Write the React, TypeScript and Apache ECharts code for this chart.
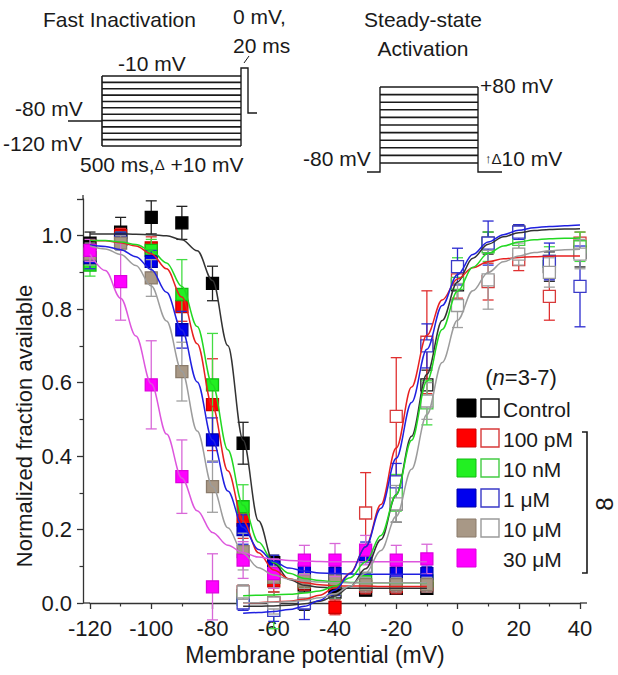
import React, { useEffect, useRef } from "react";
import * as echarts from "echarts";

// ---- Data points (mean, SEM) ----
const inactV = [-120, -110, -100, -90, -80, -70, -60, -50, -40, -30, -20, -10];
const controlInact = [0.98, 1.01, 1.05, 1.035, 0.87, 0.435, 0.11, 0.05, 0.045, 0.035, 0.04, 0.04];
const controlInactErr = [0.03, 0.04, 0.045, 0.045, 0.047, 0.057, 0.02, 0.02, 0.02, 0.015, 0.015, 0.015];
const pM100Inact = [0.94, 1.0, 0.967, 0.807, 0.54, 0.226, 0.06, 0.055, -0.012, 0.045, 0.045, 0.05];
const pM100InactErr = [0.03, 0.02, 0.03, 0.04, 0.125, 0.05, 0.03, 0.02, 0.02, 0.02, 0.02, 0.02];
const nM10Inact = [0.92, 0.99, 0.96, 0.84, 0.594, 0.262, 0.07, 0.06, 0.06, 0.06, 0.055, 0.06];
const nM10InactErr = [0.03, 0.02, 0.03, 0.095, 0.14, 0.06, 0.03, 0.02, 0.02, 0.02, 0.02, 0.02];
const uM1Inact = [0.94, 0.99, 0.93, 0.744, 0.444, 0.2, 0.1, 0.09, 0.08, 0.13, 0.08, 0.08];
const uM1InactErr = [0.03, 0.02, 0.03, 0.05, 0.06, 0.04, 0.03, 0.02, 0.02, 0.02, 0.02, 0.02];
const uM10Inact = [0.95, 0.98, 0.885, 0.63, 0.317, 0.14, 0.07, 0.06, 0.06, 0.05, 0.05, 0.05];
const uM10InactErr = [0.03, 0.02, 0.05, 0.08, 0.07, 0.05, 0.03, 0.02, 0.02, 0.02, 0.02, 0.02];
const uM30Inact = [0.96, 0.875, 0.594, 0.344, 0.044, 0.117, 0.08, 0.117, 0.117, 0.144, 0.117, 0.12];
const uM30InactErr = [0.03, 0.105, 0.12, 0.1, 0.09, 0.05, 0.04, 0.04, 0.045, 0.04, 0.04, 0.04];

const actV = [-70, -60, -50, -40, -30, -20, -10, 0, 10, 20, 30, 40];
const controlAct = [0.02, 0.0, 0.0, 0.03, 0.1, 0.27, 0.594, 0.866, 0.98, 1.01, 0.916, 0.955];
const controlActErr = [0.02, 0.03, 0.02, 0.02, 0.04, 0.05, 0.04, 0.04, 0.03, 0.02, 0.04, 0.04];
const pM100Act = [0.03, 0.0, 0.05, 0.06, 0.245, 0.508, 0.71, 0.88, 0.875, 0.935, 0.835, 0.98];
const pM100ActErr = [0.02, 0.03, 0.03, 0.03, 0.11, 0.16, 0.14, 0.05, 0.05, 0.03, 0.065, 0.03];
const nM10Act = [0.01, -0.02, 0.02, 0.04, 0.1, 0.3, 0.545, 0.87, 0.97, 0.99, 0.93, 0.97];
const nM10ActErr = [0.02, 0.05, 0.03, 0.03, 0.04, 0.05, 0.06, 0.07, 0.04, 0.03, 0.04, 0.04];
const uM1Act = [0.0, -0.02, 0.0, 0.05, 0.126, 0.33, 0.7, 0.916, 0.98, 1.01, 0.93, 0.862];
const uM1ActErr = [0.02, 0.03, 0.045, 0.03, 0.04, 0.05, 0.06, 0.05, 0.06, 0.02, 0.05, 0.11];
const uM10Act = [0.03, 0.0, 0.03, 0.04, 0.1, 0.27, 0.55, 0.81, 0.88, 0.95, 0.9, 0.95];
const uM10ActErr = [0.02, 0.03, 0.02, 0.03, 0.04, 0.05, 0.05, 0.06, 0.08, 0.03, 0.04, 0.04];

// ---- Fitted curves, every 5 mV ----
const inactCurveV = [-120, -115, -110, -105, -100, -95, -90, -85, -80, -75, -70, -65, -60, -55, -50, -45, -40, -35, -30, -25, -20, -15, -10];
const controlInactFit = [1.005, 1.005, 1.005, 1.004, 1.003, 1.0, 0.989, 0.959, 0.878, 0.701, 0.443, 0.224, 0.109, 0.064, 0.048, 0.043, 0.041, 0.04, 0.04, 0.04, 0.04, 0.04, 0.04];
const pM100InactFit = [0.988, 0.986, 0.981, 0.972, 0.951, 0.91, 0.833, 0.706, 0.535, 0.36, 0.223, 0.137, 0.09, 0.066, 0.055, 0.05, 0.047, 0.046, 0.046, 0.045, 0.045, 0.045, 0.045];
const nM10InactFit = [0.988, 0.987, 0.983, 0.976, 0.959, 0.926, 0.862, 0.753, 0.594, 0.417, 0.266, 0.166, 0.11, 0.081, 0.067, 0.061, 0.058, 0.056, 0.055, 0.055, 0.055, 0.055, 0.055];
const uM1InactFit = [0.975, 0.971, 0.962, 0.943, 0.908, 0.846, 0.743, 0.602, 0.444, 0.305, 0.206, 0.146, 0.113, 0.095, 0.087, 0.082, 0.08, 0.079, 0.078, 0.078, 0.078, 0.078, 0.078];
const uM10InactFit = [0.972, 0.964, 0.949, 0.919, 0.863, 0.768, 0.631, 0.468, 0.317, 0.205, 0.135, 0.096, 0.076, 0.065, 0.06, 0.057, 0.056, 0.055, 0.055, 0.055, 0.055, 0.055, 0.055];
const uM30InactFit = [0.95, 0.905, 0.83, 0.727, 0.597, 0.46, 0.34, 0.251, 0.192, 0.157, 0.137, 0.125, 0.119, 0.116, 0.114, 0.113, 0.112, 0.112, 0.112, 0.112, 0.112, 0.112, 0.112];

const actCurveV = [-70, -65, -60, -55, -50, -45, -40, -35, -30, -25, -20, -15, -10, -5, 0, 5, 10, 15, 20, 25, 30, 35, 40];
const controlActFit = [-0.009, -0.009, -0.008, -0.006, -0.002, 0.005, 0.019, 0.045, 0.093, 0.173, 0.295, 0.454, 0.623, 0.769, 0.874, 0.939, 0.977, 0.997, 1.008, 1.014, 1.017, 1.018, 1.019];
const pM100ActFit = [0.001, 0.001, 0.003, 0.005, 0.01, 0.021, 0.042, 0.082, 0.153, 0.268, 0.422, 0.588, 0.729, 0.825, 0.882, 0.913, 0.929, 0.937, 0.941, 0.943, 0.944, 0.945, 0.945];
const nM10ActFit = [0.02, 0.021, 0.022, 0.024, 0.027, 0.033, 0.046, 0.069, 0.112, 0.184, 0.295, 0.443, 0.604, 0.745, 0.849, 0.914, 0.952, 0.972, 0.983, 0.989, 0.992, 0.993, 0.994];
const uM1ActFit = [-0.028, -0.026, -0.023, -0.018, -0.009, 0.007, 0.035, 0.08, 0.153, 0.258, 0.394, 0.546, 0.691, 0.81, 0.894, 0.949, 0.983, 1.003, 1.015, 1.022, 1.025, 1.027, 1.029];
const uM10ActFit = [0.001, 0.001, 0.002, 0.004, 0.007, 0.014, 0.025, 0.046, 0.082, 0.143, 0.236, 0.364, 0.513, 0.655, 0.77, 0.85, 0.9, 0.929, 0.945, 0.954, 0.959, 0.962, 0.963];

const xTicks = { min: -120, max: 40, interval: 20 };
const yTicks = { min: 0, max: 1.1, interval: 0.2 };

const legendLabels = ["Control", "100 pM", "10 nM", "1 μM", "10 μM", "30 μM"];

const FONT = "'Liberation Sans', Arial, Helvetica, sans-serif";

const groups = [
  { name: "Control", fill: "#000000", stroke: "#000000", open: "#111111", bar: "#222222", curve: "#333333" },
  { name: "100 pM", fill: "#ff0000", stroke: "#cc0000", open: "#d83a3a", bar: "#e03030", curve: "#e82020" },
  { name: "10 nM", fill: "#22f022", stroke: "#11bb11", open: "#44cc44", bar: "#44dd44", curve: "#22d822" },
  { name: "1 μM", fill: "#0000ee", stroke: "#0000aa", open: "#3a3ac8", bar: "#2a2ad0", curve: "#2020e0" },
  { name: "10 μM", fill: "#a89886", stroke: "#8a7b6b", open: "#9a9a9a", bar: "#a0a0a0", curve: "#9c9c9c" },
  { name: "30 μM", fill: "#ff00ff", stroke: "#dd00dd", open: "#e050e0", bar: "#d868d8", curve: "#dd55dd" },
];

const inactMeans = [controlInact, pM100Inact, nM10Inact, uM1Inact, uM10Inact, uM30Inact];
const inactErrs = [controlInactErr, pM100InactErr, nM10InactErr, uM1InactErr, uM10InactErr, uM30InactErr];
const inactFits = [controlInactFit, pM100InactFit, nM10InactFit, uM1InactFit, uM10InactFit, uM30InactFit];
const actMeans = [controlAct, pM100Act, nM10Act, uM1Act, uM10Act];
const actErrs = [controlActErr, pM100ActErr, nM10ActErr, uM1ActErr, uM10ActErr];
const actFits = [controlActFit, pM100ActFit, nM10ActFit, uM1ActFit, uM10ActFit];

function pointRenderer(fill: string, stroke: string, bar: string, size: number) {
  return (params: any, api: any) => {
    const x = api.value(0);
    const y = api.value(1);
    const e = api.value(2);
    const c = api.coord([x, y]);
    const t = api.coord([x, y + e]);
    const b = api.coord([x, y - e]);
    const cap = 5.5;
    const ls = { stroke: bar, lineWidth: 1.3 };
    return {
      type: "group",
      children: [
        { type: "line", shape: { x1: c[0], y1: t[1], x2: c[0], y2: b[1] }, style: ls },
        { type: "line", shape: { x1: c[0] - cap, y1: t[1], x2: c[0] + cap, y2: t[1] }, style: ls },
        { type: "line", shape: { x1: c[0] - cap, y1: b[1], x2: c[0] + cap, y2: b[1] }, style: ls },
        {
          type: "rect",
          shape: { x: c[0] - size / 2, y: c[1] - size / 2, width: size, height: size },
          style: { fill, stroke, lineWidth: 1.3 },
        },
      ],
    };
  };
}

function txt(x: number, y: number, text: string, extra: any = {}, size = 21) {
  return {
    type: "text",
    x,
    y,
    z: 100,
    style: {
      text,
      fontFamily: FONT,
      fontSize: size,
      fill: "#1a1a1a",
      align: "left",
      verticalAlign: "middle",
      ...extra,
    },
  };
}

function ln(x1: number, y1: number, x2: number, y2: number, w = 1.5) {
  return { type: "line", z: 100, shape: { x1, y1, x2, y2 }, style: { stroke: "#1a1a1a", lineWidth: w } };
}

function pl(points: number[][], w = 1.5) {
  return { type: "polyline", z: 100, shape: { points }, style: { stroke: "#1a1a1a", lineWidth: w, fill: "none" } };
}

function buildGraphics() {
  const els: any[] = [];
  // Fast inactivation protocol
  for (let i = 0; i < 12; i++) {
    const y = 76 + (i * 70) / 11;
    els.push(ln(102, y, 241, y, 1.6));
  }
  els.push(ln(102, 76, 102, 146, 1.6));
  els.push(pl([[68, 121], [102, 121]], 1.4));
  els.push(pl([[241, 146], [241, 68], [248, 68], [248, 113], [257, 113]], 1.4));
  els.push(ln(244, 63, 249, 56, 1));
  els.push(txt(43, 19, "Fast Inactivation", {}, 21));
  els.push(txt(233, 16, "0 mV,", {}, 21));
  els.push(txt(233, 45, "20 ms", {}, 21));
  els.push(txt(118, 63, "-10 mV", {}, 21));
  els.push(txt(15, 108, "-80 mV", {}, 21));
  els.push(txt(3, 143, "-120 mV", {}, 21));
  els.push(
    txt(80, 164, "500 ms,{d|Δ} +10 mV", { rich: { d: { fontSize: 15, fontFamily: FONT, fill: "#1a1a1a" } } }, 21)
  );
  // Steady-state activation protocol
  for (let i = 0; i < 11; i++) {
    const y = 87 + i * 7.6;
    els.push(ln(380, y, 478, y, 1.6));
  }
  els.push(pl([[367, 172], [380, 172], [380, 87]], 1.4));
  els.push(pl([[478, 87], [478, 172], [502, 172]], 1.4));
  els.push(txt(423, 19, "Steady-state", { align: "center" }, 21));
  els.push(txt(423, 48, "Activation", { align: "center" }, 21));
  els.push(txt(303, 158, "-80 mV", {}, 21));
  els.push(txt(480, 85, "+80 mV", {}, 21));
  els.push(
    txt(
      485,
      158,
      "{a|↑}{d|Δ}10 mV",
      {
        rich: {
          a: { fontSize: 13, fontFamily: FONT, fill: "#1a1a1a" },
          d: { fontSize: 15, fontFamily: FONT, fill: "#1a1a1a" },
        },
      },
      21
    )
  );

  // axis extensions (Origin-style axis that overhangs the data range)
  els.push({ type: "line", z: 50, shape: { x1: 83, y1: 603, x2: 90, y2: 603 }, style: { stroke: "#333", lineWidth: 1.3 } });
  els.push({ type: "line", z: 50, shape: { x1: 580, y1: 603, x2: 587, y2: 603 }, style: { stroke: "#333", lineWidth: 1.3 } });
  els.push({ type: "line", z: 50, shape: { x1: 83, y1: 195, x2: 83, y2: 200 }, style: { stroke: "#333", lineWidth: 1.3 } });

  // axis titles
  els.push(txt(24, 426, "Normalized fraction available", { align: "center" }, 22));
  els[els.length - 1].rotation = Math.PI / 2;
  els.push(txt(315, 655, "Membrane potential (mV)", { align: "center" }, 23));

  // legend
  els.push(
    txt(521, 377, "({i|n}=3-7)", {
      align: "center",
      rich: { i: { fontStyle: "italic", fontSize: 22, fontFamily: FONT, fill: "#1a1a1a" } },
    }, 22)
  );
  const rowY = [408, 438, 468, 498, 528, 558];
  groups.forEach((g, i) => {
    const y = rowY[i];
    els.push({
      type: "rect",
      z: 100,
      shape: { x: 457, y: y - 9, width: 19, height: 18 },
      style: { fill: g.fill, stroke: g.stroke, lineWidth: 1 },
    });
    if (i < 5) {
      els.push({
        type: "rect",
        z: 100,
        shape: { x: 481, y: y - 9, width: 18, height: 18 },
        style: { fill: "#ffffff", stroke: g.open, lineWidth: 1.4 },
      });
    }
    els.push(txt(503, y + 1, legendLabels[i], {}, 21));
  });
  // bracket
  els.push(pl([[582, 432], [587, 432], [587, 573], [582, 573]], 1.6));
  const eight = txt(604, 504, "8", { align: "center" }, 24);
  (eight as any).rotation = Math.PI / 2;
  els.push(eight);
  return els;
}

function zip(xs: number[], ys: number[]) {
  return xs.map((x, i) => [x, ys[i]]);
}

function zip3(xs: number[], ys: number[], es: number[]) {
  return xs.map((x, i) => [x, ys[i], es[i]]);
}

export default function App() {
  const ref = useRef<HTMLDivElement>(null);
  useEffect(() => {
    if (!ref.current) return;
    const chart = echarts.init(ref.current, undefined, { renderer: "svg" });
    const series: any[] = [];

    // activation points (open squares)
    actMeans.forEach((m, i) => {
      const g = groups[i];
      series.push({
        type: "custom",
        name: g.name + " act",
        renderItem: pointRenderer("#ffffff", g.open, g.bar, 12),
        data: zip3(actV, m, actErrs[i]),
        encode: { x: 0, y: 1 },
        clip: false,
        z: 2,
      });
    });
    // inactivation points (filled squares)
    inactMeans.forEach((m, i) => {
      const g = groups[i];
      series.push({
        type: "custom",
        name: g.name + " inact",
        renderItem: pointRenderer(g.fill, g.stroke, g.bar, 12),
        data: zip3(inactV, m, inactErrs[i]),
        encode: { x: 0, y: 1 },
        clip: false,
        z: 3,
      });
    });
    // fitted curves
    inactFits.forEach((f, i) => {
      series.push({
        type: "line",
        name: groups[i].name + " inact fit",
        data: zip(inactCurveV, f),
        smooth: 0.35,
        smoothMonotone: "x",
        showSymbol: false,
        symbol: "none",
        clip: false,
        lineStyle: { color: groups[i].curve, width: 1.5 },
        z: 4,
      });
    });
    actFits.forEach((f, i) => {
      series.push({
        type: "line",
        name: groups[i].name + " act fit",
        data: zip(actCurveV, f),
        smooth: 0.35,
        smoothMonotone: "x",
        showSymbol: false,
        symbol: "none",
        clip: false,
        lineStyle: { color: groups[i].curve, width: 1.5 },
        z: 4,
      });
    });

    const axisLine = { show: true, onZero: false, lineStyle: { color: "#333", width: 1.3 } };
    chart.setOption({
      animation: false,
      backgroundColor: "#ffffff",
      grid: { left: 90, right: 38, top: 199, bottom: 72, containLabel: false },
      xAxis: {
        type: "value",
        min: xTicks.min,
        max: xTicks.max,
        interval: xTicks.interval,
        axisLine,
        axisTick: { show: true, length: 6, lineStyle: { color: "#333", width: 1.3 } },
        minorTick: { show: true, splitNumber: 2, length: 3.5, lineStyle: { color: "#333", width: 1.2 } },
        splitLine: { show: false },
        axisLabel: { fontFamily: FONT, fontSize: 22, color: "#1a1a1a", margin: 14 },
      },
      yAxis: {
        type: "value",
        min: yTicks.min,
        max: yTicks.max,
        interval: yTicks.interval,
        offset: 7,
        axisLine,
        axisTick: { show: true, length: 6, lineStyle: { color: "#333", width: 1.3 } },
        minorTick: { show: true, splitNumber: 2, length: 3.5, lineStyle: { color: "#333", width: 1.2 } },
        splitLine: { show: false },
        axisLabel: {
          fontFamily: FONT,
          fontSize: 22,
          color: "#1a1a1a",
          margin: 11,
          showMaxLabel: false,
          formatter: (v: number) => v.toFixed(1),
        },
      },
      graphic: { elements: buildGraphics() },
      series,
    });
    return () => chart.dispose();
  }, []);
  return (
    <div
      ref={ref}
      style={{ position: "fixed", left: 0, top: 0, width: 618, height: 675, background: "#fff" }}
    />
  );
}
